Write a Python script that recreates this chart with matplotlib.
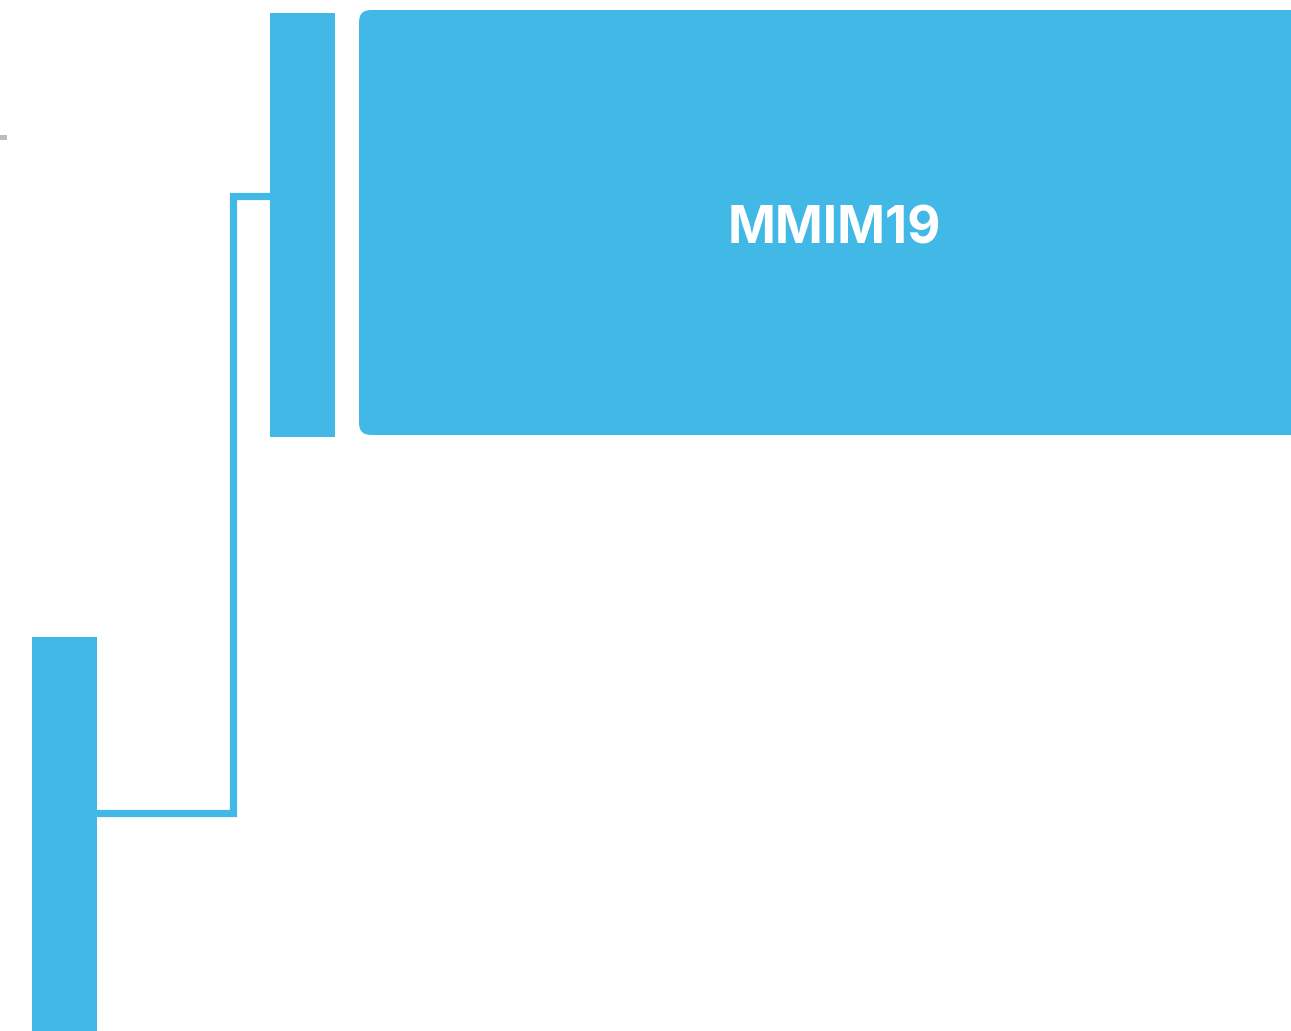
import matplotlib.pyplot as plt
from matplotlib.patches import Rectangle, FancyBboxPatch

# tree nodes, drawn in pixel units of the view (y grows downward)
node_names = ["root", "child", "MMIM19"]
node_x = [32, 270, 359]
node_y = [637, 13, 10]
node_w = [65, 65, 960]
node_h = [420, 424, 425]

# elbow link root -> child
link_x = [97, 233, 233, 270]
link_y = [813, 813, 196, 196]

blue = "#41B8E6"

fig = plt.figure(figsize=(12.91, 10.31), dpi=100)
ax = fig.add_axes([0, 0, 1, 1])
ax.set_xlim(0, 1291)
ax.set_ylim(1031, 0)
ax.axis("off")

# little grey stub on the left edge
ax.add_patch(Rectangle((-5, 135), 12, 5, color="#BDBDBD", lw=0))

ax.plot(link_x, link_y, color=blue, lw=5.2, solid_joinstyle="miter", zorder=1)

for i in range(2):
    ax.add_patch(Rectangle((node_x[i], node_y[i]), node_w[i], node_h[i],
                           color=blue, lw=0, zorder=2))

ax.add_patch(FancyBboxPatch((node_x[2], node_y[2]), node_w[2], node_h[2],
                            boxstyle="round,pad=0,rounding_size=12",
                            color=blue, lw=0, zorder=2))

ax.text(834, 230, node_names[2], color="white", fontsize=37, fontweight="bold",
        family="Inter", ha="center", va="center", zorder=3)

fig.savefig("out.png", dpi=100)
